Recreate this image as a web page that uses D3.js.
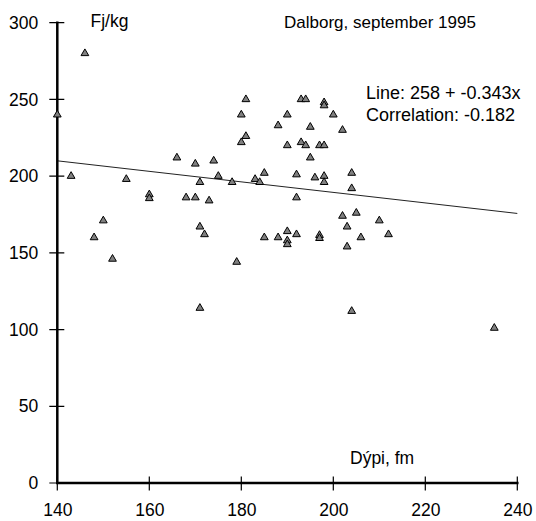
<!DOCTYPE html>
<html>
<head>
<meta charset="utf-8">
<script src="https://cdn.jsdelivr.net/npm/d3@7"></script>
<style>
  body { margin: 0; background: #fff; }
  text { font-family: "Liberation Sans", Arial, sans-serif; fill: #000; }
</style>
</head>
<body>
<svg id="chart" width="536" height="521"></svg>
<script>
// depth (fm) and energy (Fj/kg)
var depth = [140, 146, 143, 148, 150, 152, 155, 160, 160, 166,
             168, 170, 170, 171, 171, 172, 171, 173, 174, 175,
             178, 179, 180, 180, 181, 181, 183, 184, 185, 185,
             188, 188, 190, 190, 190, 190, 190, 192, 192, 192,
             193, 194, 193, 194, 195, 195, 196, 197, 198, 198,
             198, 198, 198, 197, 197, 200, 202, 202, 205, 203,
             203, 206, 204, 204, 210, 212, 204, 235];
var energy = [240, 280, 200, 160, 171, 146, 198, 188, 185.5, 212,
              186, 208, 186, 196, 167, 162, 114, 184, 210, 200,
              196, 144, 240, 222, 250, 226, 198, 196, 202, 160,
              160, 233, 240, 220, 164, 158, 155.5, 162, 201, 186,
              250, 250, 222, 220, 232, 212, 199, 220, 220, 248,
              246, 200, 196, 161.5, 159.5, 240, 230, 174, 176, 167,
              154, 160, 202, 192, 171, 162, 112, 101];

var xTicks = [140, 160, 180, 200, 220, 240];
var yTicks = [0, 50, 100, 150, 200, 250, 300];

// fitted line, as printed on the chart
var fitCoef = [258, -0.343];
var fitLabels = ["Line: 258 + -0.343x", "Correlation: -0.182"];

var svg = d3.select("#chart");

var x = d3.scaleLinear().domain([140, 240]).range([57.3, 517.3]);
var y = d3.scaleLinear().domain([0, 300]).range([483, 22.7]);

// regression line
svg.append("path")
    .attr("d", d3.line()([[x(140), y(fitCoef[0] + fitCoef[1] * 140)],
                           [x(240), y(fitCoef[0] + fitCoef[1] * 240)]]))
    .attr("stroke", "#222").attr("stroke-width", 1).attr("fill", "none");

// tick labels via d3.axis; the axis lines themselves are drawn as plain paths below
svg.append("g")
    .attr("transform", "translate(" + x(140) + ",0)")
    .call(d3.axisLeft(y).tickValues(yTicks).tickSize(8).tickSizeOuter(0).tickPadding(11));
svg.append("g")
    .attr("transform", "translate(0," + y(0) + ")")
    .call(d3.axisBottom(x).tickValues(xTicks).tickSize(7.5).tickSizeOuter(0).tickPadding(13));
svg.selectAll(".domain, .tick line").remove();

svg.selectAll(".tick text")
    .attr("font-family", "'Liberation Sans', Arial, sans-serif")
    .attr("font-size", "17.5px")
    .attr("fill", "#000");

// tick marks, crossing the axes
var tickPath = d3.path();
yTicks.forEach(function (v) {
    tickPath.moveTo(x(140) - 8, y(v));
    tickPath.lineTo(x(140) + 7, y(v));
});
xTicks.forEach(function (v) {
    tickPath.moveTo(x(v), y(0) - 6.5);
    tickPath.lineTo(x(v), y(0) + 7.5);
});
svg.append("path")
    .attr("d", tickPath.toString())
    .attr("fill", "none")
    .attr("stroke", "#000")
    .attr("stroke-width", 1.2);

// thick axis lines, as one L-shaped path
svg.append("path")
    .attr("d", d3.line()([[x(140), y(300)], [x(140), y(0)], [x(240), y(0)]]))
    .attr("fill", "none")
    .attr("stroke", "#000")
    .attr("stroke-width", 2.5)
    .attr("stroke-linecap", "square");

// points
var tri = d3.symbol().type(d3.symbolTriangle).size(26);
svg.append("g").selectAll("path")
    .data(depth.map((d, i) => [d, energy[i]]))
    .enter().append("path")
    .attr("d", tri)
    .attr("transform", d => "translate(" + x(d[0]) + "," + y(d[1]) + ")")
    .attr("fill", "#808080")
    .attr("stroke", "#000")
    .attr("stroke-width", 1);

// titles
svg.append("text").attr("x", 90.5).attr("y", 27.3)
    .style("font-size", "17.5px").text("Fj/kg");
svg.append("text").attr("x", 284).attr("y", 28)
    .style("font-size", "17px").text("Dalborg, september 1995");
svg.append("text").attr("x", 350).attr("y", 464)
    .style("font-size", "17.5px").text("Dýpi, fm");

svg.append("g").selectAll("text")
    .data(fitLabels).enter().append("text")
    .attr("x", 366).attr("y", (d, i) => 99.3 + i * 21.3)
    .style("font-size", "18px")
    .text(d => d);
</script>
</body>
</html>
